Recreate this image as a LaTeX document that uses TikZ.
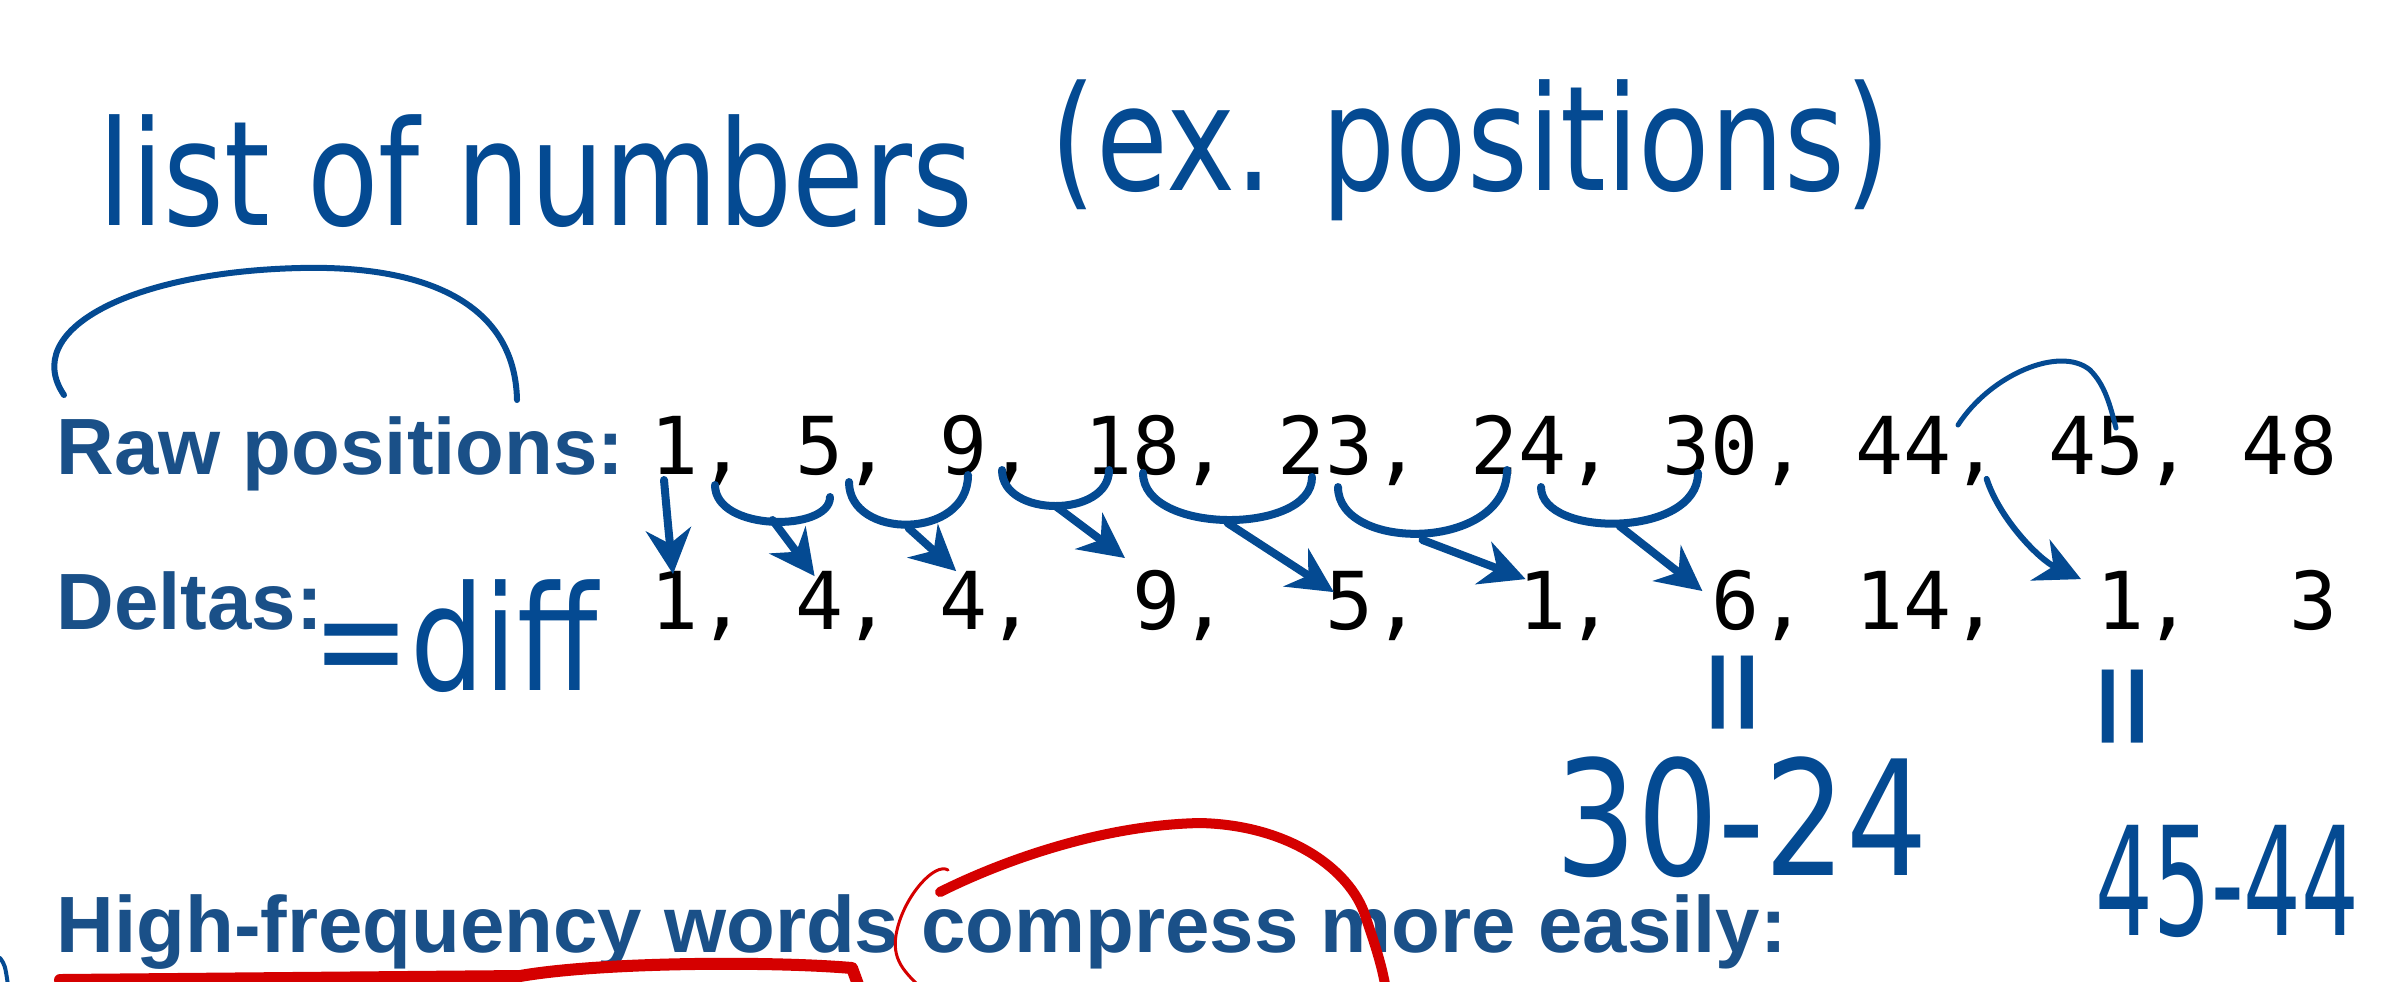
\documentclass[tikz,border=0pt]{standalone}
\usepackage{fontspec}
\setsansfont{Liberation Sans}
\setmonofont{DejaVu Sans Mono}
\newfontfamily\plume[FakeStretch=0.8]{DejaVu Sans}
\newfontfamily\plumeetroite[FakeStretch=0.6]{DejaVu Sans}
\usetikzlibrary{arrows.meta}
\definecolor{Texte}{HTML}{1A5088}
\definecolor{Encre}{HTML}{044A92}
\definecolor{Rouge}{HTML}{D50000}

\begin{document}
\begin{tikzpicture}[x=.01cm,y=-.01cm,
    texte/.style={anchor=base west, inner sep=0pt, text=Texte, font=\sffamily\bfseries\fontsize{22.7}{27}\selectfont},
    nombre/.style={anchor=base west, inner sep=0pt, font=\ttfamily\fontsize{22.7}{27}\selectfont},
    manuscrit/.style={anchor=base west, inner sep=0pt, text=Encre, font=\plume\fontsize{41.5}{48}\selectfont},
    trait/.style={draw=Encre, line width=.08cm, line cap=round, line join=round},
    fleche/.style={trait, -{Stealth[length=.45cm, width=.45cm]}},
    feutre/.style={draw=Rouge, line cap=round, line join=round}]
        \useasboundingbox[fill=white] (0,0) rectangle (2407,981);
        % texte de la diapo
        \node[texte] (brut) at (56,474) {Raw positions:};
        \node[texte] (delta) at (56,629) {Deltas:};
        \node[texte] (freq) at (56,952) {High-frequency words compress more easily:};
        \foreach \n/\c [count=\i] in {{1,}/0, {5,}/3, {9,}/6, {18,}/9, {23,}/13, {24,}/17, {30,}/21, {44,}/25, {45,}/29, {48}/33}
          \node[nombre] (r\i) at (650+48.2*\c,474) {\n};
        \foreach \n/\c [count=\i] in {{1,}/0, {4,}/3, {4,}/6, {9,}/10, {5,}/14, {1,}/18, {6,}/22, {14,}/25, {1,}/30, {3}/34}
          \node[nombre] (d\i) at (650+48.2*\c,629) {\n};
        % notes a la main
        \node[manuscrit] (titre) at (98,225) {list of numbers};
        \node[manuscrit] (exemple) at (1050,190) {(ex. positions)};
        \node[manuscrit] (diff) at (312,690) {=diff};
        \node[manuscrit, anchor=center, rotate=90] (egal7) at (1745,693) {=};
        \node[manuscrit, anchor=center, rotate=90] (egal9) at (2135,707) {=};
        \node[manuscrit, font=\plume\fontsize{45.5}{52}\selectfont] (calcul7) at (1555,875) {30-24};
        \node[manuscrit, font=\plumeetroite\fontsize{43}{50}\selectfont] (calcul9) at (2095,935) {45-44};
        \draw[trait, line width=.06cm] (64,395) .. controls (20,330) and (130,272) .. (300,268)
          .. controls (420,265) and (515,300) .. (517,400);
        \draw[fleche] (664,480) .. controls (668,525) .. ([shift={(23,4)}]d1.north west);
        \foreach \k/\xa/\ya/\xb/\yb/\ym/\dx/\dy in {2/715/485/830/497/517/20/6, 3/849/482/968/475/525/17/1,
            4/1002/470/1109/470/503/-7/-11, 5/1143/473/1312/477/520/9/22, 6/1338/487/1507/470/537/8/9,
            7/1541/487/1698/473/523/-8/22}{
          \draw[trait] (\xa,\ya) .. controls (\xa,\ym+15) and (\xb,\ym+15) .. (\xb,\yb);
          \draw[fleche] ({(\xa+\xb)/2},\ym+3) -- ([shift={(\dx,\dy)}]d\k.north west);
        }
        \draw[trait, line width=.05cm] (1958,425) .. controls (1990,375) and (2060,345) .. (2090,370)
          .. controls (2105,385) and (2110,405) .. (2116,428);
        \draw[fleche, line width=.06cm] ([shift={(-14,-7)}]r8.south east) .. controls (2000,520) and (2040,560) .. ([shift={(-15,9)}]d9.north west);
        \draw[trait, line width=.04cm] (0,958) .. controls (5,965) .. (8,985);
        % feutre rouge
        \draw[feutre, line width=.1cm] (940,892) .. controls (1000,862) and (1100,825) .. (1200,823)
          .. controls (1290,825) and (1350,870) .. (1365,915) .. controls (1375,945) and (1382,965) .. (1386,990);
        \draw[feutre, line width=.03cm] (948,870) .. controls (935,862) and (905,895) .. (897,930)
          .. controls (890,960) and (905,972) .. (923,990);
        \draw[feutre, line width=.12cm] (60,980) -- (520,976) .. controls (600,962) and (770,961) .. (852,968) -- (860,990);
        \draw[white, line width=.02cm] (610,977) -- (760,978);
      \end{tikzpicture}
\end{document}
